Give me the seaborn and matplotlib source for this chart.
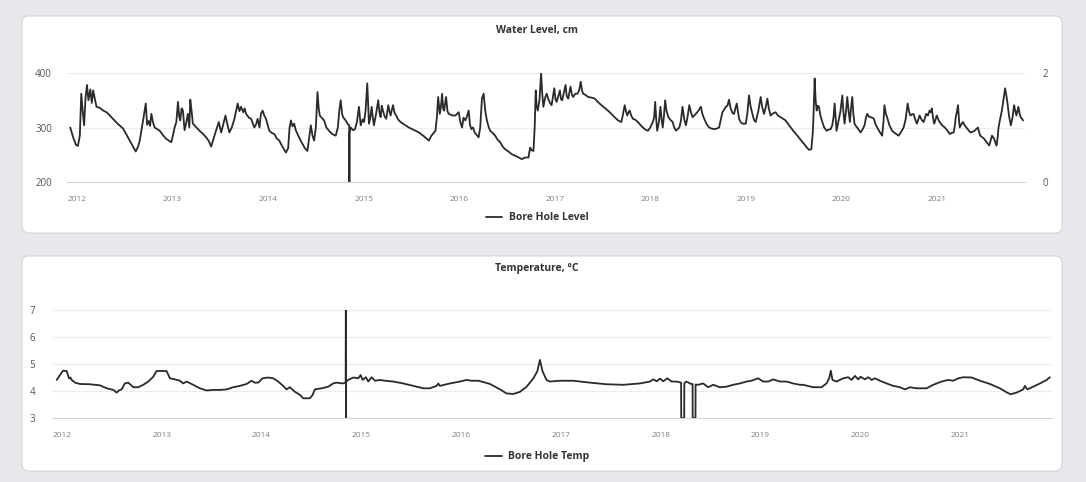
import pandas as pd
import seaborn as sns
import matplotlib.pyplot as plt
from matplotlib.patches import FancyBboxPatch

# Bore hole water level (cm)
level_years = [
    2011.93, 2011.96, 2011.99, 2012.01, 2012.03, 2012.045, 2012.06, 2012.075, 2012.09, 2012.105,
    2012.12, 2012.14, 2012.155, 2012.17, 2012.19, 2012.205, 2012.24, 2012.275, 2012.31, 2012.344,
    2012.42, 2012.483, 2012.53, 2012.57, 2012.615, 2012.64, 2012.657, 2012.692, 2012.72, 2012.734,
    2012.75, 2012.765, 2012.779, 2012.795, 2012.813, 2012.84, 2012.866, 2012.90, 2012.935, 2012.987,
    2013.00, 2013.022, 2013.04, 2013.057, 2013.07, 2013.081, 2013.095, 2013.109, 2013.126, 2013.145,
    2013.161, 2013.176, 2013.186, 2013.20, 2013.213, 2013.25, 2013.283, 2013.32, 2013.352, 2013.38,
    2013.405, 2013.43, 2013.457, 2013.484, 2013.509, 2013.53, 2013.554, 2013.575, 2013.595, 2013.62,
    2013.648, 2013.665, 2013.682, 2013.70, 2013.717, 2013.74, 2013.755, 2013.77, 2013.80, 2013.822,
    2013.856, 2013.875, 2013.891, 2013.91, 2013.925, 2013.943, 2013.96, 2013.978, 2014.013, 2014.04,
    2014.065, 2014.09, 2014.117, 2014.15, 2014.187, 2014.21, 2014.225, 2014.239, 2014.255, 2014.273,
    2014.29, 2014.308, 2014.335, 2014.36, 2014.385, 2014.412, 2014.447, 2014.465, 2014.482, 2014.50,
    2014.517, 2014.53, 2014.541, 2014.56, 2014.586, 2014.61, 2014.638, 2014.67, 2014.708, 2014.73,
    2014.745, 2014.76, 2014.775, 2014.785, 2014.812, 2014.835, 2014.849, 2014.851, 2014.853, 2014.865,
    2014.89, 2014.91, 2014.93, 2014.951, 2014.969, 2014.99, 2015.004, 2015.02, 2015.038, 2015.056,
    2015.07, 2015.084, 2015.095, 2015.108, 2015.13, 2015.153, 2015.165, 2015.178, 2015.19, 2015.202,
    2015.22, 2015.237, 2015.258, 2015.27, 2015.282, 2015.295, 2015.307, 2015.325, 2015.341, 2015.36,
    2015.386, 2015.43, 2015.473, 2015.52, 2015.578, 2015.63, 2015.682, 2015.71, 2015.752, 2015.767,
    2015.78, 2015.797, 2015.81, 2015.821, 2015.832, 2015.842, 2015.853, 2015.863, 2015.877, 2015.891,
    2015.93, 2015.96, 2015.995, 2016.012, 2016.03, 2016.045, 2016.064, 2016.08, 2016.099, 2016.113,
    2016.127, 2016.145, 2016.162, 2016.185, 2016.203, 2016.22, 2016.238, 2016.256, 2016.273, 2016.29,
    2016.31, 2016.325, 2016.35, 2016.377, 2016.40, 2016.429, 2016.455, 2016.481, 2016.515, 2016.551,
    2016.60, 2016.655, 2016.69, 2016.725, 2016.742, 2016.76, 2016.777, 2016.79, 2016.801, 2016.81,
    2016.822, 2016.84, 2016.857, 2016.87, 2016.881, 2016.90, 2016.916, 2016.933, 2016.95, 2016.967,
    2016.995, 2017.008, 2017.02, 2017.054, 2017.065, 2017.078, 2017.113, 2017.125, 2017.141, 2017.165,
    2017.18, 2017.193, 2017.215, 2017.238, 2017.255, 2017.272, 2017.285, 2017.297, 2017.32, 2017.349,
    2017.38, 2017.419, 2017.45, 2017.488, 2017.53, 2017.575, 2017.62, 2017.662, 2017.697, 2017.715,
    2017.732, 2017.745, 2017.759, 2017.772, 2017.784, 2017.80, 2017.818, 2017.845, 2017.87, 2017.90,
    2017.922, 2017.95, 2017.974, 2018.00, 2018.026, 2018.04, 2018.051, 2018.062, 2018.072, 2018.09,
    2018.106, 2018.118, 2018.13, 2018.142, 2018.155, 2018.17, 2018.189, 2018.21, 2018.234, 2018.25,
    2018.269, 2018.285, 2018.304, 2018.32, 2018.337, 2018.355, 2018.373, 2018.39, 2018.408, 2018.425,
    2018.443, 2018.46, 2018.477, 2018.50, 2018.529, 2018.545, 2018.564, 2018.59, 2018.616, 2018.64,
    2018.668, 2018.695, 2018.72, 2018.738, 2018.755, 2018.77, 2018.79, 2018.807, 2018.824, 2018.837,
    2018.849, 2018.863, 2018.877, 2018.89, 2018.905, 2018.918, 2018.929, 2018.945, 2018.964, 2018.98,
    2018.999, 2019.015, 2019.033, 2019.048, 2019.068, 2019.085, 2019.103, 2019.13, 2019.155, 2019.17,
    2019.19, 2019.205, 2019.225, 2019.24, 2019.259, 2019.285, 2019.311, 2019.335, 2019.363, 2019.39,
    2019.415, 2019.44, 2019.47, 2019.50, 2019.539, 2019.575, 2019.609, 2019.635, 2019.661, 2019.685,
    2019.70, 2019.706, 2019.72, 2019.73, 2019.741, 2019.753, 2019.765, 2019.78, 2019.80, 2019.82,
    2019.845, 2019.865, 2019.887, 2019.904, 2019.918, 2019.929, 2019.94, 2019.949, 2019.962, 2019.974,
    2019.99, 2020.009, 2020.02, 2020.033, 2020.048, 2020.061, 2020.075, 2020.089, 2020.10, 2020.113,
    2020.125, 2020.137, 2020.15, 2020.165, 2020.185, 2020.20, 2020.22, 2020.242, 2020.257, 2020.27,
    2020.287, 2020.304, 2020.32, 2020.339, 2020.355, 2020.374, 2020.40, 2020.426, 2020.44, 2020.45,
    2020.465, 2020.478, 2020.50, 2020.53, 2020.565, 2020.599, 2020.625, 2020.651, 2020.672, 2020.693,
    2020.707, 2020.721, 2020.738, 2020.755, 2020.772, 2020.79, 2020.805, 2020.818, 2020.84, 2020.86,
    2020.875, 2020.887, 2020.905, 2020.922, 2020.935, 2020.946, 2020.958, 2020.971, 2020.985, 2020.998,
    2021.02, 2021.04, 2021.06, 2021.082, 2021.11, 2021.134, 2021.155, 2021.175, 2021.188, 2021.196,
    2021.21, 2021.22, 2021.23, 2021.238, 2021.255, 2021.272, 2021.29, 2021.307, 2021.33, 2021.349,
    2021.37, 2021.394, 2021.41, 2021.429, 2021.44, 2021.453, 2021.475, 2021.495, 2021.52, 2021.547,
    2021.56, 2021.575, 2021.588, 2021.599, 2021.612, 2021.623, 2021.635, 2021.644, 2021.66, 2021.679,
    2021.695, 2021.713, 2021.725, 2021.738, 2021.755, 2021.773, 2021.79, 2021.807, 2021.82, 2021.831,
    2021.842, 2021.852, 2021.865, 2021.876, 2021.89, 2021.90,
]
level_cm = [
    300, 282, 268, 266, 285, 362, 330, 304, 355, 378,
    350, 370, 345, 368, 350, 338, 336, 331, 328, 322,
    308, 298, 283, 270, 256, 265, 276, 313, 344, 305,
    312, 303, 325, 310, 300, 297, 294, 286, 279, 273,
    282, 300, 310, 347, 320, 313, 335, 331, 295, 310,
    325, 300, 351, 330, 307, 300, 294, 288, 282, 275,
    265, 280, 295, 310, 291, 305, 322, 305, 291, 300,
    316, 330, 344, 330, 338, 328, 335, 325, 318, 316,
    300, 306, 316, 300, 325, 331, 322, 316, 294, 290,
    288, 280, 276, 265, 254, 262, 300, 313, 302, 307,
    295, 288, 278, 270, 262, 257, 304, 285, 276, 300,
    365, 335, 322, 318, 313, 300, 294, 288, 285, 300,
    330, 350, 325, 319, 313, 306, 304, 200, 290, 300,
    295, 297, 310, 338, 304, 315, 310, 330, 381, 307,
    318, 338, 320, 304, 325, 350, 328, 319, 340, 331,
    320, 316, 341, 330, 322, 332, 341, 326, 322, 315,
    310, 305, 300, 296, 291, 284, 276, 285, 294, 320,
    356, 325, 340, 362, 335, 331, 345, 356, 330, 325,
    322, 322, 328, 310, 300, 318, 313, 320, 331, 305,
    297, 300, 291, 286, 282, 300, 353, 362, 330, 313,
    300, 294, 290, 285, 278, 273, 265, 260, 256, 251,
    247, 242, 245, 245, 263, 258, 257, 300, 368, 340,
    331, 350, 399, 360, 338, 355, 362, 352, 345, 341,
    372, 352, 347, 368, 352, 350, 378, 358, 353, 375,
    360, 356, 362, 362, 368, 384, 368, 362, 360, 356,
    355, 353, 347, 341, 335, 328, 320, 313, 310, 325,
    341, 330, 322, 328, 331, 322, 316, 314, 310, 304,
    300, 296, 294, 300, 310, 318, 347, 315, 294, 310,
    338, 315, 300, 320, 350, 330, 319, 314, 310, 300,
    294, 297, 300, 312, 338, 315, 304, 320, 341, 328,
    319, 322, 325, 330, 338, 325, 316, 306, 300, 298,
    297, 298, 300, 315, 328, 332, 338, 340, 351, 338,
    331, 326, 325, 335, 344, 328, 316, 310, 307, 307,
    307, 325, 359, 340, 325, 314, 310, 330, 356, 338,
    325, 335, 353, 335, 322, 326, 328, 322, 319, 316,
    313, 307, 300, 293, 285, 277, 270, 264, 259, 260,
    290, 313, 390, 350, 331, 340, 338, 322, 310, 300,
    294, 296, 297, 304, 320, 344, 315, 294, 305, 316,
    330, 359, 330, 307, 330, 356, 330, 310, 335, 356,
    325, 307, 303, 300, 295, 291, 296, 304, 318, 325,
    320, 319, 318, 316, 307, 300, 292, 285, 310, 341,
    325, 319, 305, 294, 289, 285, 292, 300, 315, 344,
    330, 322, 324, 325, 315, 307, 315, 322, 314, 310,
    318, 325, 322, 331, 328, 335, 318, 307, 315, 322,
    312, 307, 303, 300, 294, 288, 290, 291, 305, 319,
    330, 341, 315, 300, 306, 310, 304, 300, 295, 291,
    292, 294, 297, 300, 292, 285, 282, 279, 273, 267,
    275, 285, 282, 279, 272, 267, 282, 300, 315, 331,
    350, 372, 360, 344, 320, 304, 318, 341, 330, 322,
    330, 338, 325, 319, 316, 313,
]

# Bore hole temperature (deg C)
temp_years = [
    2011.947, 2011.98, 2012.01, 2012.047, 2012.07, 2012.085, 2012.097, 2012.13, 2012.18, 2012.28,
    2012.38, 2012.448, 2012.515, 2012.548, 2012.57, 2012.598, 2012.63, 2012.665, 2012.715, 2012.765,
    2012.815, 2012.865, 2012.915, 2012.948, 2012.998, 2013.048, 2013.082, 2013.132, 2013.182, 2013.215,
    2013.249, 2013.315, 2013.382, 2013.449, 2013.516, 2013.583, 2013.65, 2013.716, 2013.783, 2013.85,
    2013.90, 2013.93, 2013.967, 2014.01, 2014.067, 2014.117, 2014.167, 2014.217, 2014.25, 2014.284,
    2014.334, 2014.384, 2014.418, 2014.485, 2014.511, 2014.535, 2014.602, 2014.668, 2014.718, 2014.752,
    2014.812, 2014.843, 2014.845, 2014.846, 2014.848, 2014.869, 2014.92, 2014.97, 2014.993, 2015.013,
    2015.046, 2015.07, 2015.103, 2015.136, 2015.186, 2015.237, 2015.32, 2015.42, 2015.521, 2015.621,
    2015.688, 2015.755, 2015.771, 2015.788, 2015.888, 2015.988, 2016.055, 2016.105, 2016.175, 2016.29,
    2016.39, 2016.456, 2016.523, 2016.59, 2016.657, 2016.724, 2016.763, 2016.79, 2016.817, 2016.856,
    2016.89, 2016.99, 2017.124, 2017.291, 2017.458, 2017.625, 2017.792, 2017.892, 2017.926, 2017.96,
    2017.993, 2018.026, 2018.066, 2018.11, 2018.16, 2018.205, 2018.206, 2018.236, 2018.237, 2018.256,
    2018.306, 2018.32, 2018.321, 2018.349, 2018.35, 2018.376, 2018.426, 2018.476, 2018.527, 2018.593,
    2018.66, 2018.727, 2018.794, 2018.86, 2018.91, 2018.977, 2019.027, 2019.078, 2019.128, 2019.195,
    2019.262, 2019.328, 2019.395, 2019.428, 2019.528, 2019.612, 2019.662, 2019.689, 2019.705, 2019.722,
    2019.762, 2019.829, 2019.88, 2019.913, 2019.947, 2019.98, 2020.004, 2020.047, 2020.08, 2020.114,
    2020.147, 2020.197, 2020.264, 2020.331, 2020.398, 2020.448, 2020.498, 2020.565, 2020.665, 2020.732,
    2020.815, 2020.882, 2020.932, 2020.983, 2021.033, 2021.116, 2021.2, 2021.3, 2021.4, 2021.467,
    2021.507, 2021.567, 2021.634, 2021.65, 2021.674, 2021.734, 2021.801, 2021.868, 2021.9,
]
temp_c = [
    4.41, 4.59, 4.75, 4.74, 4.47, 4.50, 4.41, 4.31, 4.26, 4.25,
    4.21, 4.10, 4.04, 3.94, 4.02, 4.06, 4.28, 4.31, 4.14, 4.14,
    4.23, 4.35, 4.53, 4.74, 4.74, 4.74, 4.47, 4.43, 4.38, 4.28,
    4.35, 4.23, 4.10, 4.02, 4.04, 4.04, 4.06, 4.14, 4.19, 4.26,
    4.38, 4.31, 4.31, 4.47, 4.50, 4.47, 4.35, 4.19, 4.06, 4.14,
    3.97, 3.86, 3.73, 3.73, 3.85, 4.06, 4.10, 4.16, 4.28, 4.31,
    4.28, 4.31, 7.0, 3.0, 4.35, 4.41, 4.50, 4.47, 4.59, 4.41,
    4.51, 4.35, 4.51, 4.38, 4.41, 4.38, 4.35, 4.28, 4.19, 4.10,
    4.10, 4.19, 4.28, 4.19, 4.28, 4.35, 4.41, 4.38, 4.38, 4.26,
    4.06, 3.91, 3.89, 3.97, 4.16, 4.47, 4.72, 5.15, 4.72, 4.41,
    4.35, 4.38, 4.38, 4.31, 4.25, 4.23, 4.28, 4.35, 4.43, 4.36,
    4.46, 4.36, 4.47, 4.35, 4.35, 4.31, 3.0, 3.0, 4.28, 4.35,
    4.26, 4.26, 3.0, 3.0, 4.24, 4.23, 4.28, 4.14, 4.23, 4.14,
    4.16, 4.23, 4.28, 4.35, 4.38, 4.47, 4.35, 4.35, 4.43, 4.35,
    4.35, 4.28, 4.23, 4.23, 4.14, 4.14, 4.28, 4.47, 4.75, 4.41,
    4.35, 4.47, 4.51, 4.41, 4.56, 4.43, 4.53, 4.43, 4.51, 4.41,
    4.47, 4.38, 4.28, 4.19, 4.14, 4.06, 4.14, 4.10, 4.10, 4.23,
    4.35, 4.41, 4.38, 4.47, 4.51, 4.50, 4.38, 4.26, 4.10, 3.95,
    3.88, 3.94, 4.06, 4.19, 4.06, 4.16, 4.28, 4.41, 4.51,
]

year_ticks = list(range(2012, 2022))
year_labels = [str(y) for y in year_ticks]
level_ticks = [200, 300, 400]
right_ticks = [0, 2]
temp_ticks = [3, 4, 5, 6, 7]

sns.set_style('white')
plt.rcParams['font.family'] = ['Open Sans', 'DejaVu Sans']

W, H = 1086, 482
fig = plt.figure(figsize=(W / 100, H / 100), dpi=100)
fig.patch.set_facecolor('#e8e7eb')

line_color = '#2a2a2a'
text_dark = '#333333'


def add_panel(x0, top, x1, bottom):
    # white rounded card, given in pixel coords measured from the top
    box = FancyBboxPatch((x0, H - bottom), x1 - x0, bottom - top,
                         boxstyle='round,pad=0,rounding_size=7',
                         transform=None, facecolor='white',
                         edgecolor='#d6d6d9', linewidth=0.8, zorder=0)
    fig.add_artist(box)


def axes_at(left, top, right, bottom):
    return fig.add_axes([left / W, 1 - bottom / H, (right - left) / W, (bottom - top) / H])


def style_axes(ax, ylabel_pad):
    for side in ['top', 'right', 'left']:
        ax.spines[side].set_visible(False)
    ax.spines['bottom'].set_color('#d0d4dc')
    ax.spines['bottom'].set_linewidth(0.8)
    ax.set_facecolor('none')
    ax.yaxis.grid(True, color='#ececec', linewidth=0.8)
    ax.xaxis.grid(False)
    ax.set_xticks(year_ticks)
    ax.set_xticklabels(year_labels)
    ax.tick_params(axis='x', length=4, width=0.8, color='#d0d4dc',
                   labelsize=6, labelcolor='#808080', pad=6)
    ax.tick_params(axis='y', length=0, labelsize=7, labelcolor='#555555', pad=ylabel_pad)
    ax.set_xlabel('')
    ax.set_ylabel('')


add_panel(22, 16, 1062, 233)
add_panel(22, 256, 1062, 471)

# --- water level panel ---
level_df = pd.DataFrame({'year': level_years, 'level': level_cm})
ax1 = axes_at(67.4, 73, 1024.9, 182)
sns.lineplot(data=level_df, x='year', y='level', ax=ax1, color=line_color,
             linewidth=1.3, estimator=None, sort=False, label='Bore Hole Level')
ax1.set_xlim(2011.90, 2021.92)
ax1.set_ylim(200, 400)
ax1.set_yticks(level_ticks)
style_axes(ax1, 11)

ax1r = ax1.twinx()
ax1r.set_ylim(0, 2)
ax1r.set_yticks(right_ticks)
for side in ['top', 'right', 'left', 'bottom']:
    ax1r.spines[side].set_visible(False)
ax1r.tick_params(axis='y', length=0, labelsize=7, labelcolor='#555555', pad=13)
ax1r.grid(False)

fig.text(537 / W, 1 - 31 / H, 'Water Level, cm', ha='center', va='center',
         fontsize=7.5, fontweight='bold', color=text_dark)
ax1.legend(loc='center', bbox_to_anchor=(537 / W, 1 - 218 / H),
           bbox_transform=fig.transFigure, frameon=False, handlelength=1.6,
           handletextpad=0.6, prop={'weight': 'bold', 'size': 7.5}, labelcolor=text_dark)

# --- temperature panel ---
temp_df = pd.DataFrame({'year': temp_years, 'temp': temp_c})
ax2 = axes_at(52, 310, 1051.8, 418)
sns.lineplot(data=temp_df, x='year', y='temp', ax=ax2, color=line_color,
             linewidth=1.3, estimator=None, sort=False, label='Bore Hole Temp')
ax2.set_xlim(2011.90, 2021.92)
ax2.set_ylim(3, 7)
ax2.set_yticks(temp_ticks)
style_axes(ax2, 12)

fig.text(537 / W, 1 - 268 / H, 'Temperature, \u00b0C', ha='center', va='center',
         fontsize=7.5, fontweight='bold', color=text_dark)
ax2.legend(loc='center', bbox_to_anchor=(537 / W, 1 - 457 / H),
           bbox_transform=fig.transFigure, frameon=False, handlelength=1.6,
           handletextpad=0.6, prop={'weight': 'bold', 'size': 7.5}, labelcolor=text_dark)

fig.savefig('out.png', dpi=100, facecolor=fig.get_facecolor())
